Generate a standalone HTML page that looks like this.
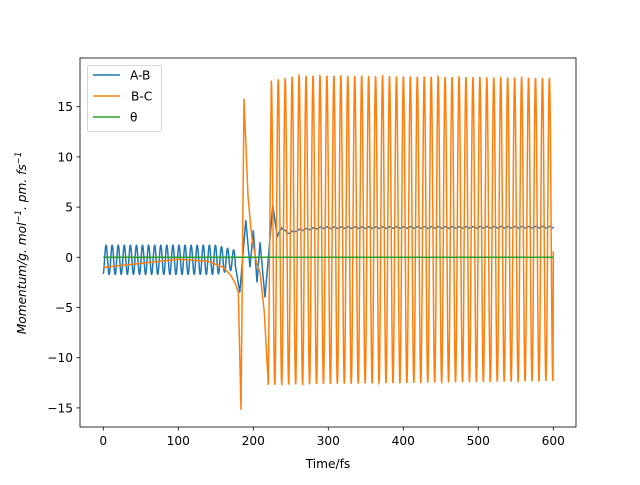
<!DOCTYPE html>
<html><head><meta charset="utf-8"><style>
html,body{margin:0;padding:0;background:#fff}
svg text{font-family:"DejaVu Sans","Liberation Sans",sans-serif;font-size:12.2px;fill:#000}
</style></head><body>
<svg id="s" width="640" height="480" xmlns="http://www.w3.org/2000/svg">
<rect width="640" height="480" fill="#fff"/>
<defs><clipPath id="c"><rect x="80" y="58" width="496" height="369"/></clipPath></defs>
<g clip-path="url(#c)">
<path id="ab" fill="none" stroke="#1f77b4" stroke-width="1.5"/>
<path id="bc" fill="none" stroke="#ff7f0e" stroke-width="1.5"/>
<line x1="103.3" x2="553.3" y1="257.3" y2="257.3" stroke="#2ca02c" stroke-width="1.5"/>
</g>
<rect x="80" y="58" width="496" height="369" fill="none" stroke="#000" stroke-width="0.8"/>
<g id="ticks" stroke="#000" stroke-width="0.8"></g>
<g id="labels"></g>
<text x="328" y="468" text-anchor="middle">Time/fs</text>
<text transform="translate(26,243) rotate(-90)" text-anchor="middle" style="font-style:italic">Momentum/g. mol<tspan dy="-5" style="font-size:8.5px">−1</tspan><tspan dy="5">. pm. fs</tspan><tspan dy="-5" style="font-size:8.5px">−1</tspan></text>
<rect x="87.5" y="65.5" width="74" height="66" rx="2" fill="#fff" fill-opacity="0.8" stroke="#ccc" stroke-width="0.8"/>
<line x1="93" x2="120" y1="75" y2="75" stroke="#1f77b4" stroke-width="1.5"/>
<line x1="93" x2="120" y1="96" y2="96" stroke="#ff7f0e" stroke-width="1.5"/>
<line x1="93" x2="120" y1="117" y2="117" stroke="#2ca02c" stroke-width="1.5"/>
<text x="130" y="79.5">A-B</text><text x="131" y="100.5">B-C</text><text x="130" y="121.5">θ</text>
</svg>
<script>
var X=t=>103.3+t*0.75, Y=v=>257.3-v*10.04;
var tk=document.getElementById('ticks'), lb=document.getElementById('labels'), ns='http://www.w3.org/2000/svg';
function el(p,n,a,txt){var e=document.createElementNS(ns,n);for(var k in a)e.setAttribute(k,a[k]);if(txt)e.textContent=txt;p.appendChild(e);}
for(var t=0;t<=600;t+=100){el(tk,'line',{x1:X(t),x2:X(t),y1:427,y2:430.5});el(lb,'text',{x:X(t),y:445,'text-anchor':'middle'},''+t);}
for(var v=-15;v<=15;v+=5){el(tk,'line',{x1:80,x2:76.5,y1:Y(v),y2:Y(v)});el(lb,'text',{x:73,y:Y(v)+4.5,'text-anchor':'end'},(v<0?'−':'')+Math.abs(v));}
function interp(pts,t){for(var i=0;i<pts.length-1;i++){if(t<=pts[i+1][0]){var a=pts[i],b=pts[i+1];return a[1]+(b[1]-a[1])*(t-a[0])/(b[0]-a[0]);}}return pts[pts.length-1][1];}
var ab='',bc='';
var bcpts=[[0,-1],[50,-0.6],[100,-0.2],[140,-0.4],[160,-1],[170,-1.8],[176,-2.6],[180,-3.5],[183.6,-15.2],[187.6,15.8],[193,6],[198,2],[204.5,-0.6],[209,-1.5],[214.7,-5.5],[220,-12.7],[224,17.6]];
var abpts=[[176,-0.8],[182,-3.5],[190,3.7],[195.6,-1],[200,2.7],[205,-2.5],[209,1.5],[215.6,-4],[226,5.2],[232,2],[238,3],[245,2.4],[260,2.7],[290,2.95],[600,3]];
var P=9.27;
for(var i=0;i<=2998;i++){
 var t=i*0.2;
 var a;
 if(t<176){var amp=1.45*(t<150?1:Math.max(0.6,1-(t-150)/75));a=-0.25+amp*Math.sin(2*Math.PI*t/8.1-1.3);}
 else a=interp(abpts,t)+(t>232?0.08*Math.sin(2*Math.PI*t/P):0);
 var b;
 if(t<224)b=interp(bcpts,t);
 else{var ph=2*Math.PI*(t-224)/P;var c=Math.cos(ph);var mx=t<260?17.6+(t-224)/36*0.5:18.1-(t-300>0?(t-300)*0.0008:0);var mn=-12.7+(t-224)*0.001;b=mn+(mx-mn)*(0.5+0.5*c);}
 ab+=(i?'L':'M')+X(t).toFixed(2)+' '+Y(a).toFixed(2);
 bc+=(i?'L':'M')+X(t).toFixed(2)+' '+Y(b).toFixed(2);
}
ab+='L'+X(600).toFixed(2)+' '+Y(3).toFixed(2);
bc+='L'+X(600).toFixed(2)+' '+Y(0.6).toFixed(2);
document.getElementById('ab').setAttribute('d',ab);
document.getElementById('bc').setAttribute('d',bc);
</script>
</body></html>
